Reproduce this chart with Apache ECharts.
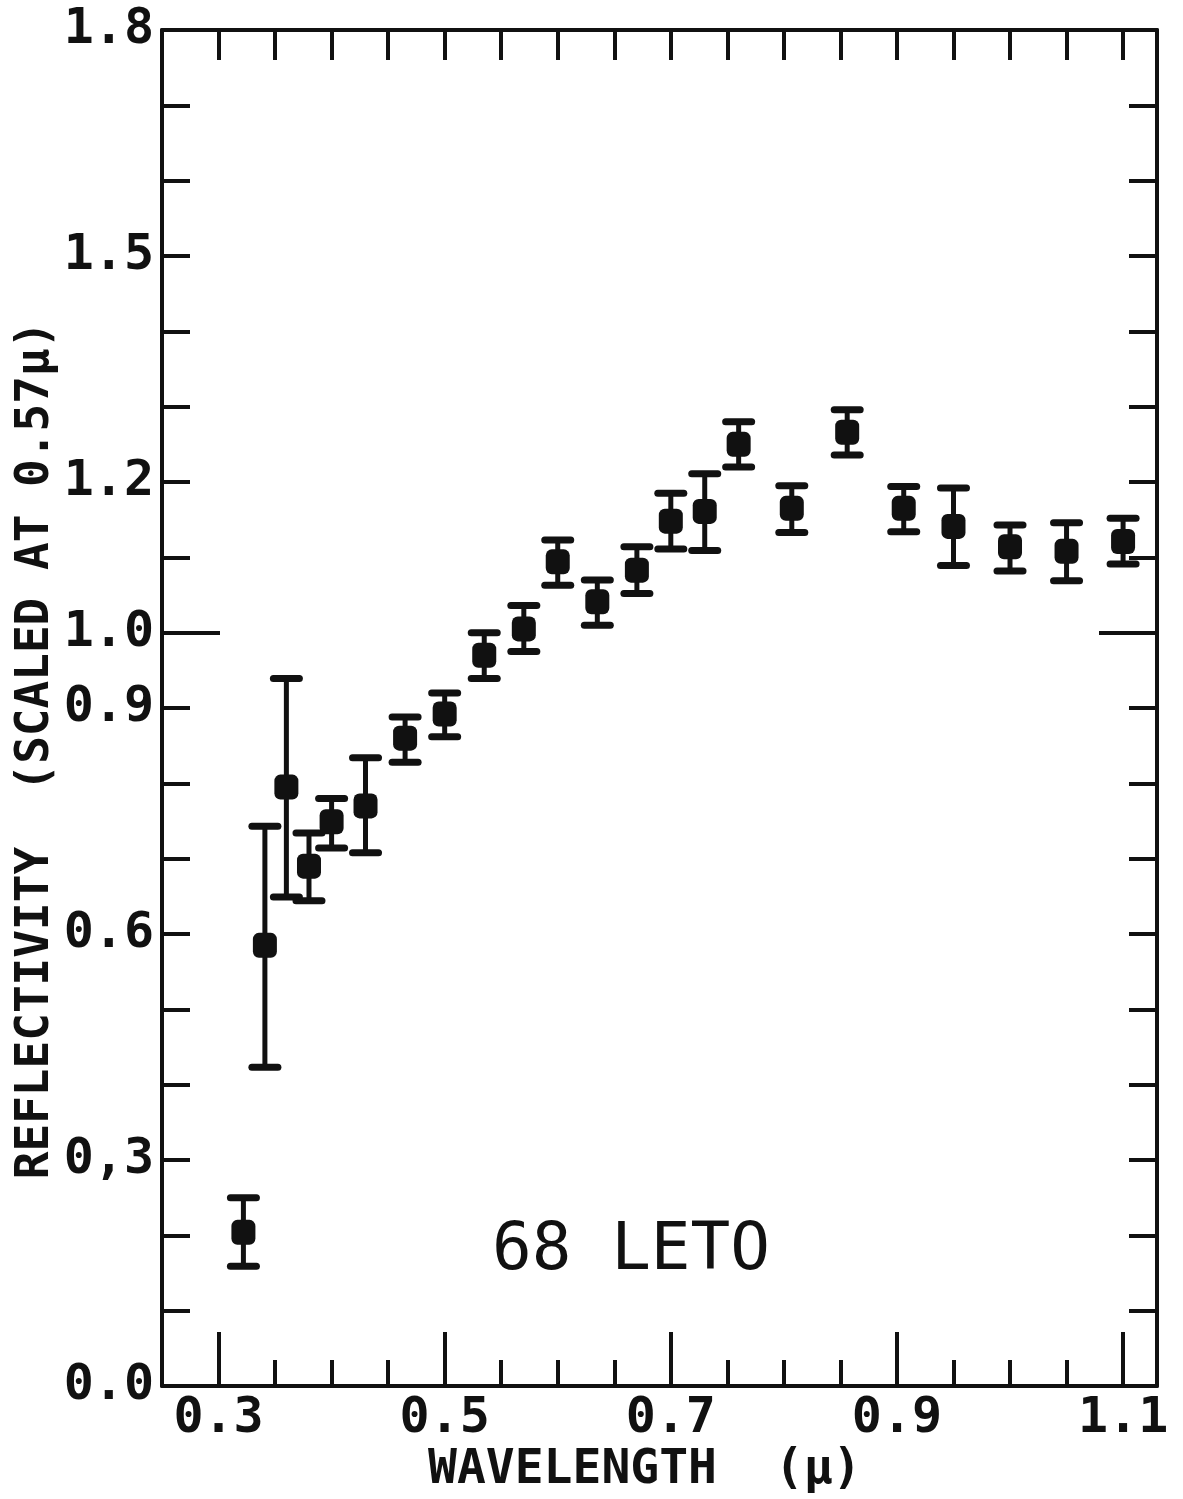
<!DOCTYPE html>
<html>
<head>
<meta charset="utf-8">
<script src="https://cdn.jsdelivr.net/npm/echarts@6/dist/echarts.min.js"></script>
<style>
  html, body { margin: 0; padding: 0; background: #fff; }
  #main { width: 1183px; height: 1499px; }
</style>
</head>
<body>
<div id="main"></div>
<script>
// 68 Leto, reflectivity scaled at 0.57 micron
var wavelength = [0.322, 0.341, 0.36, 0.38, 0.40, 0.43, 0.465, 0.50, 0.535, 0.57, 0.60, 0.635,
  0.67, 0.70, 0.73, 0.76, 0.807, 0.856, 0.906, 0.95, 1.00, 1.05, 1.10];
var reflectivity = [0.204, 0.585, 0.795, 0.690, 0.749, 0.770, 0.860, 0.892, 0.970, 1.005, 1.094, 1.041,
  1.083, 1.148, 1.161, 1.250, 1.165, 1.266, 1.165, 1.141, 1.114, 1.108, 1.121];
var errHigh = [0.250, 0.743, 0.939, 0.734, 0.780, 0.834, 0.888, 0.920, 1.000, 1.036, 1.123, 1.070,
  1.114, 1.185, 1.211, 1.280, 1.195, 1.296, 1.194, 1.192, 1.143, 1.146, 1.152];
var errLow = [0.159, 0.423, 0.649, 0.644, 0.714, 0.708, 0.828, 0.862, 0.939, 0.975, 1.063, 1.010,
  1.052, 1.111, 1.109, 1.220, 1.133, 1.236, 1.134, 1.089, 1.082, 1.069, 1.091];

var xTicks = [0.3, 0.35, 0.4, 0.45, 0.5, 0.55, 0.6, 0.65, 0.7, 0.75, 0.8, 0.85, 0.9, 0.95, 1.0, 1.05, 1.1];
var xMajor = [0.3, 0.5, 0.7, 0.9, 1.1];
var yTicks = [0.1, 0.2, 0.3, 0.4, 0.5, 0.6, 0.7, 0.8, 0.9, 1.0, 1.1, 1.2, 1.3, 1.4, 1.5, 1.6, 1.7];
var yLabelValues = [0.0, 0.3, 0.6, 0.9, 1.0, 1.2, 1.5, 1.8];
var yLabelText = ['0.0', '0,3', '0.6', '0.9', '1.0', '1.2', '1.5', '1.8'];

var chartDom = document.getElementById('main');
var myChart = echarts.init(chartDom);

var ink = '#111';
var mono = '"DejaVu Sans Mono", "Liberation Mono", monospace';
var lblStyle = { color: ink, fontFamily: mono, fontWeight: 'bold', fontSize: 50 };

// extra axes used only to draw tick marks of other lengths
function tickOnly(pos, ticks, len, line) {
  var vertical = pos === 'left' || pos === 'right';
  return {
    type: 'value', position: pos,
    min: vertical ? 0 : 0.25,
    max: vertical ? 1.8 : 1.13,
    axisLine: { show: line, onZero: false, lineStyle: { color: ink, width: 4 } },
    axisTick: { show: true, inside: true, length: len, customValues: ticks, lineStyle: { color: ink, width: 4 } },
    axisLabel: { show: false },
    splitLine: { show: false }
  };
}

var option = {
  animation: false,
  backgroundColor: '#fff',
  grid: { left: 162, right: 26, top: 30, bottom: 113 },
  xAxis: [
    {
      type: 'value', position: 'bottom', min: 0.25, max: 1.13,
      axisLine: { onZero: false, lineStyle: { color: ink, width: 4 } },
      axisTick: { inside: true, length: 26, customValues: xTicks, lineStyle: { color: ink, width: 4 } },
      axisLabel: Object.assign({
        customValues: xMajor, margin: 8,
        formatter: function (v) { return v.toFixed(1); }
      }, lblStyle),
      splitLine: { show: false }
    },
    tickOnly('bottom', xMajor, 54, false),
    tickOnly('top', xTicks, 30, true)
  ],
  yAxis: [
    {
      type: 'value', position: 'left', min: 0, max: 1.8,
      axisLine: { onZero: false, lineStyle: { color: ink, width: 4 } },
      axisTick: { inside: true, length: 28, customValues: yTicks, lineStyle: { color: ink, width: 4 } },
      axisLabel: Object.assign({
        customValues: yLabelValues, margin: 8,
        formatter: function (v) {
          for (var i = 0; i < yLabelValues.length; i++) {
            if (Math.abs(yLabelValues[i] - v) < 1e-6) return yLabelText[i];
          }
          return '';
        }
      }, lblStyle),
      splitLine: { show: false }
    },
    tickOnly('left', [1.0], 58, false),
    tickOnly('right', yTicks, 28, true),
    tickOnly('right', [1.0], 58, false)
  ],
  graphic: [
    {
      type: 'text', x: 631, y: 1252,
      style: { text: '68 LETO', font: 'normal 66px ' + mono, fill: ink, textAlign: 'center', textVerticalAlign: 'middle' }
    },
    {
      type: 'text', x: 428, y: 1471,
      style: { text: 'WAVELENGTH  (\u03bc)', font: 'bold 48px ' + mono, fill: ink, textAlign: 'left', textVerticalAlign: 'middle' }
    },
    {
      type: 'text', x: 36, y: 750, rotation: Math.PI / 2,
      style: { text: 'REFLECTIVITY  (SCALED AT 0.57\u03bc)', font: 'bold 46px ' + mono, fill: ink, textAlign: 'center', textVerticalAlign: 'middle' }
    }
  ],
  series: [
    {
      type: 'custom',
      xAxisIndex: 0, yAxisIndex: 0,
      data: wavelength.map(function (w, i) { return [w, errHigh[i], errLow[i]]; }),
      encode: { x: 0, y: [1, 2] },
      renderItem: function (params, api) {
        var top = api.coord([api.value(0), api.value(1)]);
        var bot = api.coord([api.value(0), api.value(2)]);
        var hw = 13;
        var st = { stroke: ink, lineWidth: 5 };
        var cap = { stroke: ink, lineWidth: 7, lineCap: 'round' };
        return {
          type: 'group',
          children: [
            { type: 'line', shape: { x1: top[0], y1: top[1], x2: bot[0], y2: bot[1] }, style: st },
            { type: 'line', shape: { x1: top[0] - hw, y1: top[1], x2: top[0] + hw, y2: top[1] }, style: cap },
            { type: 'line', shape: { x1: bot[0] - hw, y1: bot[1], x2: bot[0] + hw, y2: bot[1] }, style: cap }
          ]
        };
      }
    },
    {
      type: 'scatter',
      xAxisIndex: 0, yAxisIndex: 0,
      symbol: 'roundRect',
      symbolSize: [24, 25],
      itemStyle: { color: ink, opacity: 1 },
      z: 3,
      data: wavelength.map(function (w, i) { return [w, reflectivity[i]]; })
    }
  ]
};

option && myChart.setOption(option);
</script>
</body>
</html>
